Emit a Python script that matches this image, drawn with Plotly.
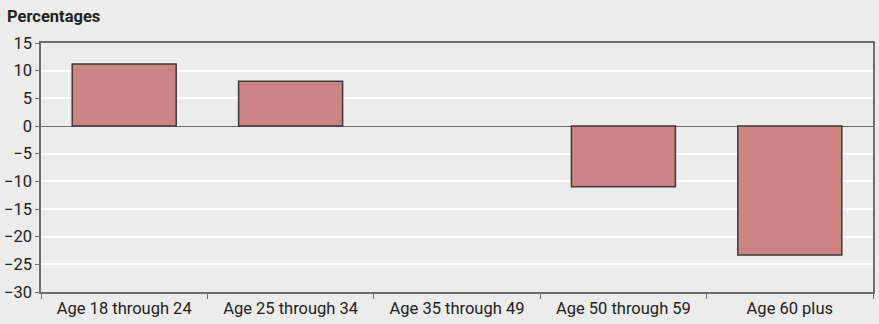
import plotly.graph_objects as go

categories = ["Age 18 through 24", "Age 25 through 34", "Age 35 through 49",
              "Age 50 through 59", "Age 60 plus"]
# No change recorded for ages 35 through 49, so no bar is drawn there
values = [11.2, 8.1, None, -11.0, -23.3]
y_ticks = [15, 10, 5, 0, -5, -10, -15, -20, -25, -30]
y_tick_text = ["15", "10", "5", "0", "\u22125", "\u221210", "\u221215",
               "\u221220", "\u221225", "\u221230"]

bg = "#ececec"
axis_col = "#6e6e6e"
font_family = "Roboto, Noto Sans, sans-serif"
fs = 16.5

fig = go.Figure(go.Bar(
    x=categories,
    y=values,
    marker=dict(color="#cc8383", line=dict(color="#3a3a3a", width=1.5)),
    width=0.625,
))

fig.update_layout(
    width=879, height=324,
    margin=dict(l=41, r=6, t=43, b=32),
    paper_bgcolor=bg, plot_bgcolor=bg,
    showlegend=False,
    font=dict(family=font_family, size=fs, color="#222"),
    annotations=[dict(
        text="<b>Percentages</b>", xref="paper", yref="paper",
        x=0, y=1, xshift=-36, yshift=38, xanchor="left", yanchor="top",
        showarrow=False, font=dict(family=font_family, size=fs, color="#222"),
    )],
)

fig.update_xaxes(
    automargin=False,
    showgrid=False, showline=True, linecolor=axis_col, linewidth=1.5,
    mirror=True, ticks="outside", tickson="boundaries", ticklen=5,
    tickcolor=axis_col, tickfont=dict(size=fs, color="#222"),
)
fig.update_yaxes(
    automargin=False,
    range=[-30, 15], tickvals=y_ticks, ticktext=y_tick_text,
    showgrid=True, gridcolor="#ffffff", gridwidth=1.5,
    zeroline=True, zerolinecolor=axis_col, zerolinewidth=1.2,
    showline=True, linecolor=axis_col, linewidth=1.5, mirror=True,
    ticks="outside", ticklen=4, tickcolor=axis_col,
    tickfont=dict(size=fs, color="#222"),
)

fig.write_html("out.html")
